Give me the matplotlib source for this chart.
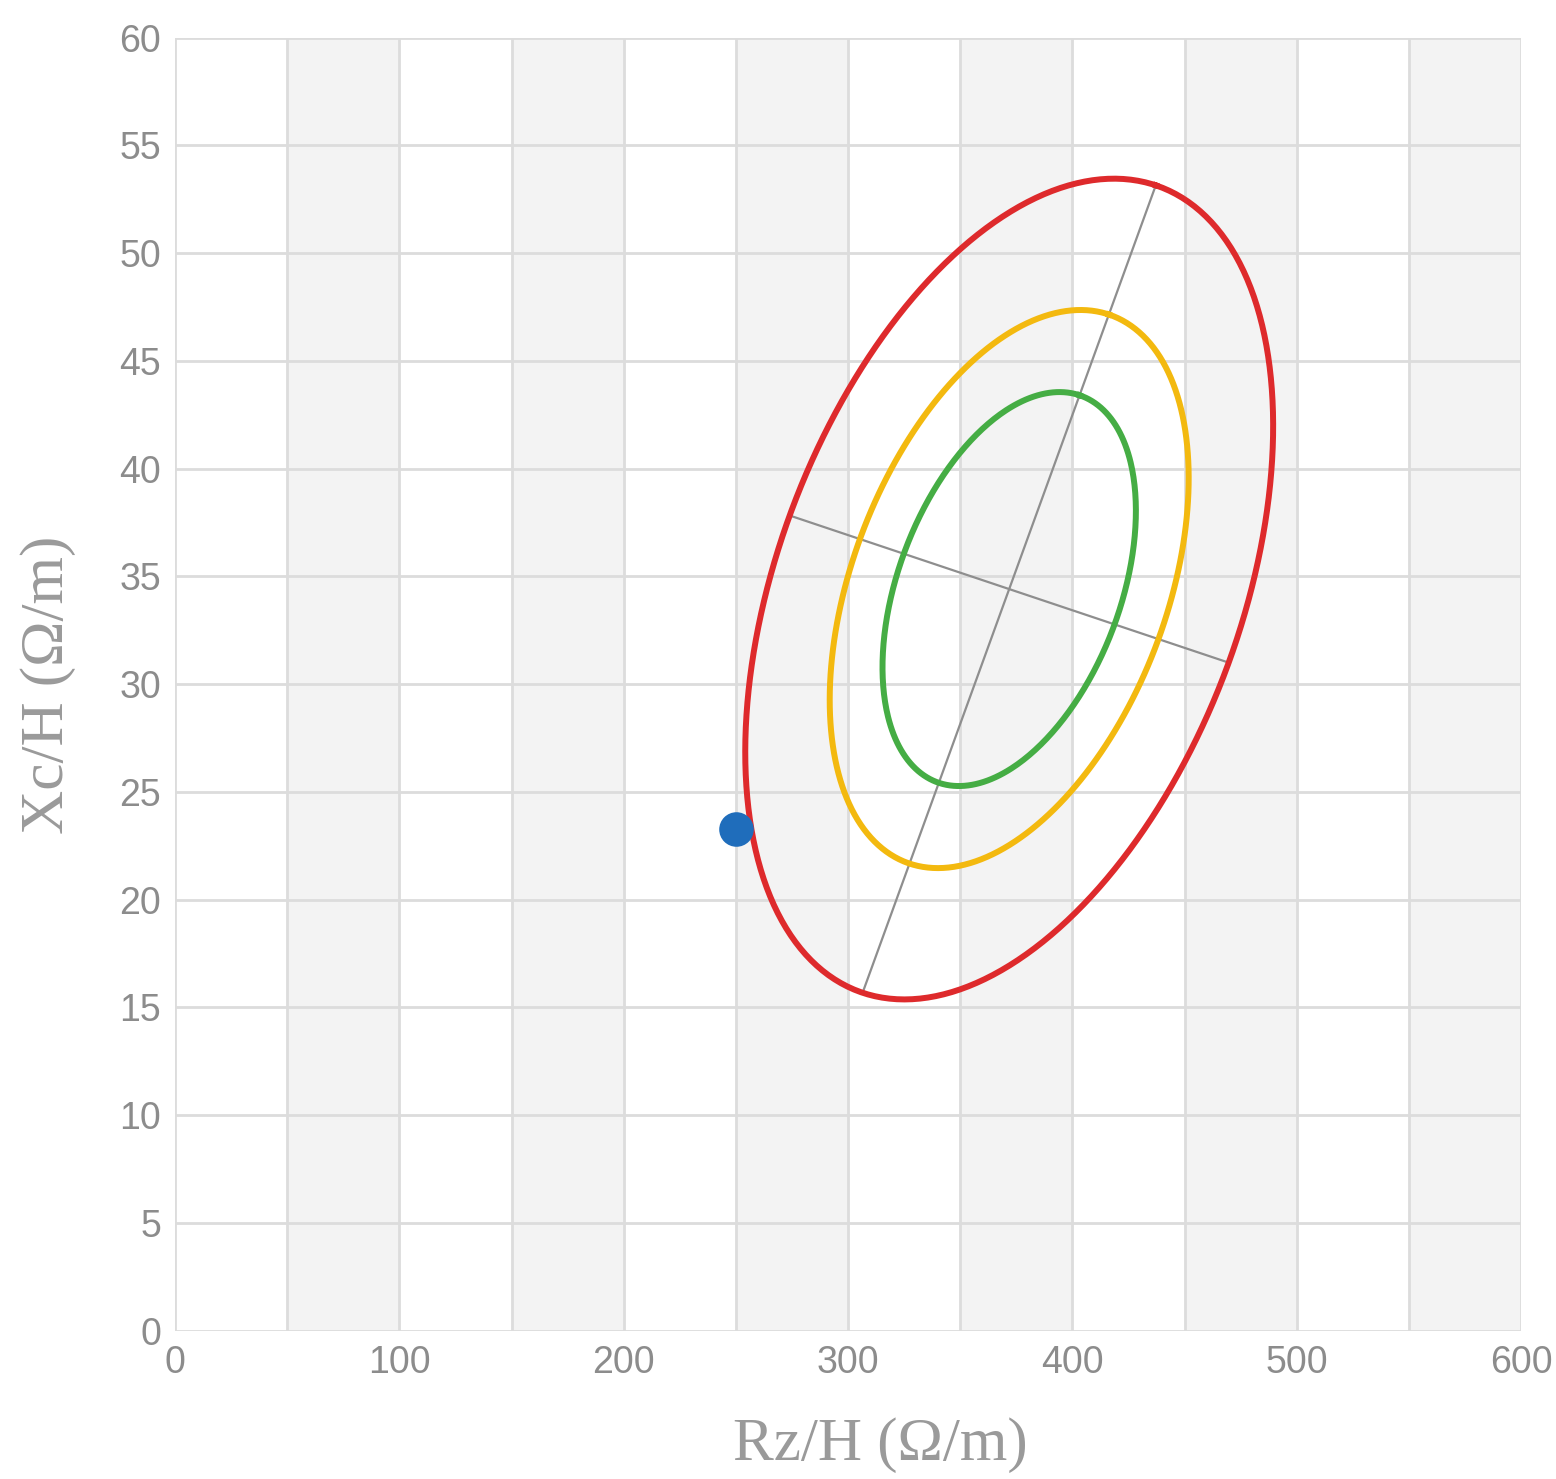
import numpy as np
import matplotlib
matplotlib.use('Agg')
import matplotlib.pyplot as plt

# axes of the outer (red) ellipse
major_axis_x = [306.5, 437.2]
major_axis_y = [15.68, 53.15]
minor_axis_x = [273.9, 469.7]
minor_axis_y = [37.83, 31.0]

# relative size of each ellipse (green, yellow, red)
ellipse_scales = [0.48, 0.68, 1.0]
ellipse_colors = ['#45ad44', '#f3b90f', '#de2a2c']

# measured point
point_x = [250]
point_y = [23.3]

x_ticks = [0, 100, 200, 300, 400, 500, 600]
y_ticks = [0, 5, 10, 15, 20, 25, 30, 35, 40, 45, 50, 55, 60]

fig = plt.figure(figsize=(15.56, 14.79), dpi=100)
ax = fig.add_axes([0.1125, 0.1003, 0.865, 0.8742])

# alternating bands
for x0 in range(50, 600, 100):
    ax.axvspan(x0, x0 + 50, color='#f3f3f3', zorder=0, lw=0)

for xv in range(0, 601, 50):
    ax.axvline(xv, color='#dcdcdc', lw=2.0, zorder=1)
for yv in y_ticks:
    ax.axhline(yv, color='#dcdcdc', lw=2.0, zorder=1)

cx = np.mean(major_axis_x)
cy = np.mean(major_axis_y)
ax_vec = np.array([major_axis_x[1] - cx, major_axis_y[1] - cy])
bx_vec = np.array([minor_axis_x[1] - cx, minor_axis_y[1] - cy])

t = np.linspace(0, 2 * np.pi, 400)
for s, c in zip(ellipse_scales, ellipse_colors):
    ex = cx + s * (ax_vec[0] * np.cos(t) + bx_vec[0] * np.sin(t))
    ey = cy + s * (ax_vec[1] * np.cos(t) + bx_vec[1] * np.sin(t))
    ax.plot(ex, ey, color=c, lw=4.3, zorder=4)

ax.plot(major_axis_x, major_axis_y, color='#8e8e8e', lw=1.6, zorder=3)
ax.plot(minor_axis_x, minor_axis_y, color='#8e8e8e', lw=1.6, zorder=3)

ax.scatter(point_x, point_y, s=620, color='#1f6dbb', zorder=5, lw=0)

ax.set_xlim(0, 600)
ax.set_ylim(0, 60)
ax.set_xticks(x_ticks)
ax.set_yticks(y_ticks)
for sp in ax.spines.values():
    sp.set_visible(False)
ax.tick_params(length=0, labelsize=27, labelcolor='#8c8c8c', pad=10)
for lab in ax.get_xticklabels() + ax.get_yticklabels():
    lab.set_family('Liberation Sans')
ax.set_axisbelow(True)

fig.text(0.5655, 0.023, 'Rz/H (\u03a9/m)', family='Liberation Serif', fontsize=44,
         color='#9a9a9a', ha='center', va='center')
fig.text(0.031, 0.537, 'Xc/H (\u03a9/m)', family='Liberation Serif', fontsize=44,
         color='#9a9a9a', ha='center', va='center', rotation=90)

plt.savefig('out.png')
